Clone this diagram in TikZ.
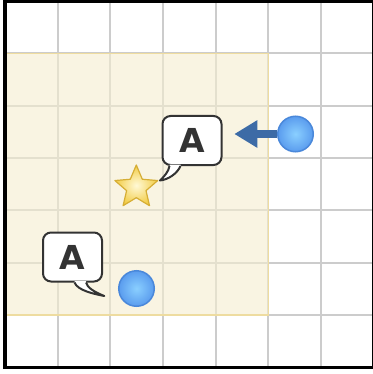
\documentclass[tikz,border=0pt]{standalone}
\usepackage{fontspec}
\newfontfamily\bubblefont{DejaVu Sans}
\usetikzlibrary{shapes.geometric,arrows.meta,backgrounds,calc}
\definecolor{gridgray}{HTML}{CCCCCC}
\definecolor{zonefill}{HTML}{F5EED0}
\definecolor{zoneedge}{HTML}{EEDCA0}
\definecolor{arrowblue}{HTML}{3D6BA6}
\definecolor{ballin}{HTML}{8ACFFF}
\definecolor{ballout}{HTML}{5A9CEE}
\definecolor{balledge}{HTML}{4A88DA}
\definecolor{starin}{HTML}{FFF9D6}
\definecolor{starout}{HTML}{F2CC45}
\definecolor{staredge}{HTML}{D6AE35}
\definecolor{inkgray}{HTML}{333333}
\begin{document}
\begin{tikzpicture}[x=1pt,y=-1pt,
  gridline/.style={draw=gridgray, line width=2pt},
  ball/.style={circle, minimum size=35.5pt, inner sep=0pt, draw=balledge, line width=1.5pt, inner color=ballin, outer color=ballout},
  starpath/.style={draw=staredge, line width=1.2pt, line join=round, inner color=starin, outer color=starout},
  bubble/.style={rectangle, rounded corners=8pt, minimum width=59pt, minimum height=49pt, draw=inkgray, line width=2pt, fill=white, font=\bubblefont\bfseries\fontsize{33}{33}\selectfont, text=inkgray, inner sep=0pt},
  tailline/.style={draw=inkgray, line width=2pt, line join=round},
  push/.style={draw=arrowblue, line width=8pt, -{Triangle[length=23pt,width=26pt]}},
]
\useasboundingbox (0,0) rectangle (372,374);
\begin{scope}[on background layer]
  \fill[white] (0,0) rectangle (372,374);
  \foreach \i in {1,...,6} {
    \draw[gridline] ({5+52.66*\i},1.2) -- ({5+52.66*\i},367.3);
    \draw[gridline] (5,{1.2+52.3*\i}) -- (373.6,{1.2+52.3*\i});
  }
  \fill[zonefill, opacity=0.6] (5,53.5) rectangle (268.3,315);
  \draw[zoneedge, line width=1.5pt] (5,53.5) rectangle (268.3,315);
  \draw[black, line width=3.2pt] (5,1.2) rectangle (373.6,367.3);
\end{scope}

\node[ball] (c1) at (295.5,134) {};
\node[ball] (c2) at (136.5,288.5) {};

% star
\coordinate (sc) at (136.3,187.5);
\path[starpath] ($(sc)+(-90:22.5)$) -- ($(sc)+(-54:10.2)$) -- ($(sc)+(-18:22.5)$)
  -- ($(sc)+(18:10.2)$) -- ($(sc)+(54:22.5)$) -- ($(sc)+(90:10.2)$)
  -- ($(sc)+(126:22.5)$) -- ($(sc)+(162:10.2)$) -- ($(sc)+(198:22.5)$)
  -- ($(sc)+(234:10.2)$) -- cycle;

\begin{scope}[on background layer]
  \coordinate (tip) at (234.3,134);
  \draw[push] (c1.west) -- (tip);
\end{scope}

% bubble 1
\node[bubble] (b1) at (192,140.5) {A};
\coordinate (t1l) at ($(b1.south west)+(8,0)$);
\coordinate (t1r) at ($(b1.south west)+(19,0)$);
\coordinate (t1p) at ($(b1.south west)+(-1.5,14.5)$);
\fill[white] ($(t1l)+(0,-1.3)$) -- (t1l) .. controls ($(t1l)+(-1,6)$) and ($(t1p)+(4,-4)$) .. (t1p)
  .. controls ($(t1p)+(9,-1)$) and ($(t1r)+(-3,7)$) .. (t1r) -- ($(t1r)+(0,-1.3)$) -- cycle;
\draw[tailline] (t1l) .. controls ($(t1l)+(-1,6)$) and ($(t1p)+(4,-4)$) .. (t1p)
  .. controls ($(t1p)+(9,-1)$) and ($(t1r)+(-3,7)$) .. (t1r);

% bubble 2
\node[bubble] (b2) at (72.5,257) {A};
\coordinate (t2l) at ($(b2.south east)+(-28.5,0)$);
\coordinate (t2r) at ($(b2.south east)+(-17,0)$);
\coordinate (t2p) at ($(b2.south east)+(1.3,13.5)$);
\fill[white] ($(t2l)+(0,-1.3)$) -- (t2l) .. controls ($(t2l)+(3,8)$) and ($(t2p)+(-10,-2)$) .. (t2p)
  .. controls ($(t2p)+(-10,-4)$) and ($(t2r)+(1,5)$) .. (t2r) -- ($(t2r)+(0,-1.3)$) -- cycle;
\draw[tailline] (t2l) .. controls ($(t2l)+(3,8)$) and ($(t2p)+(-10,-2)$) .. (t2p)
  .. controls ($(t2p)+(-10,-4)$) and ($(t2r)+(1,5)$) .. (t2r);
\end{tikzpicture}
\end{document}
